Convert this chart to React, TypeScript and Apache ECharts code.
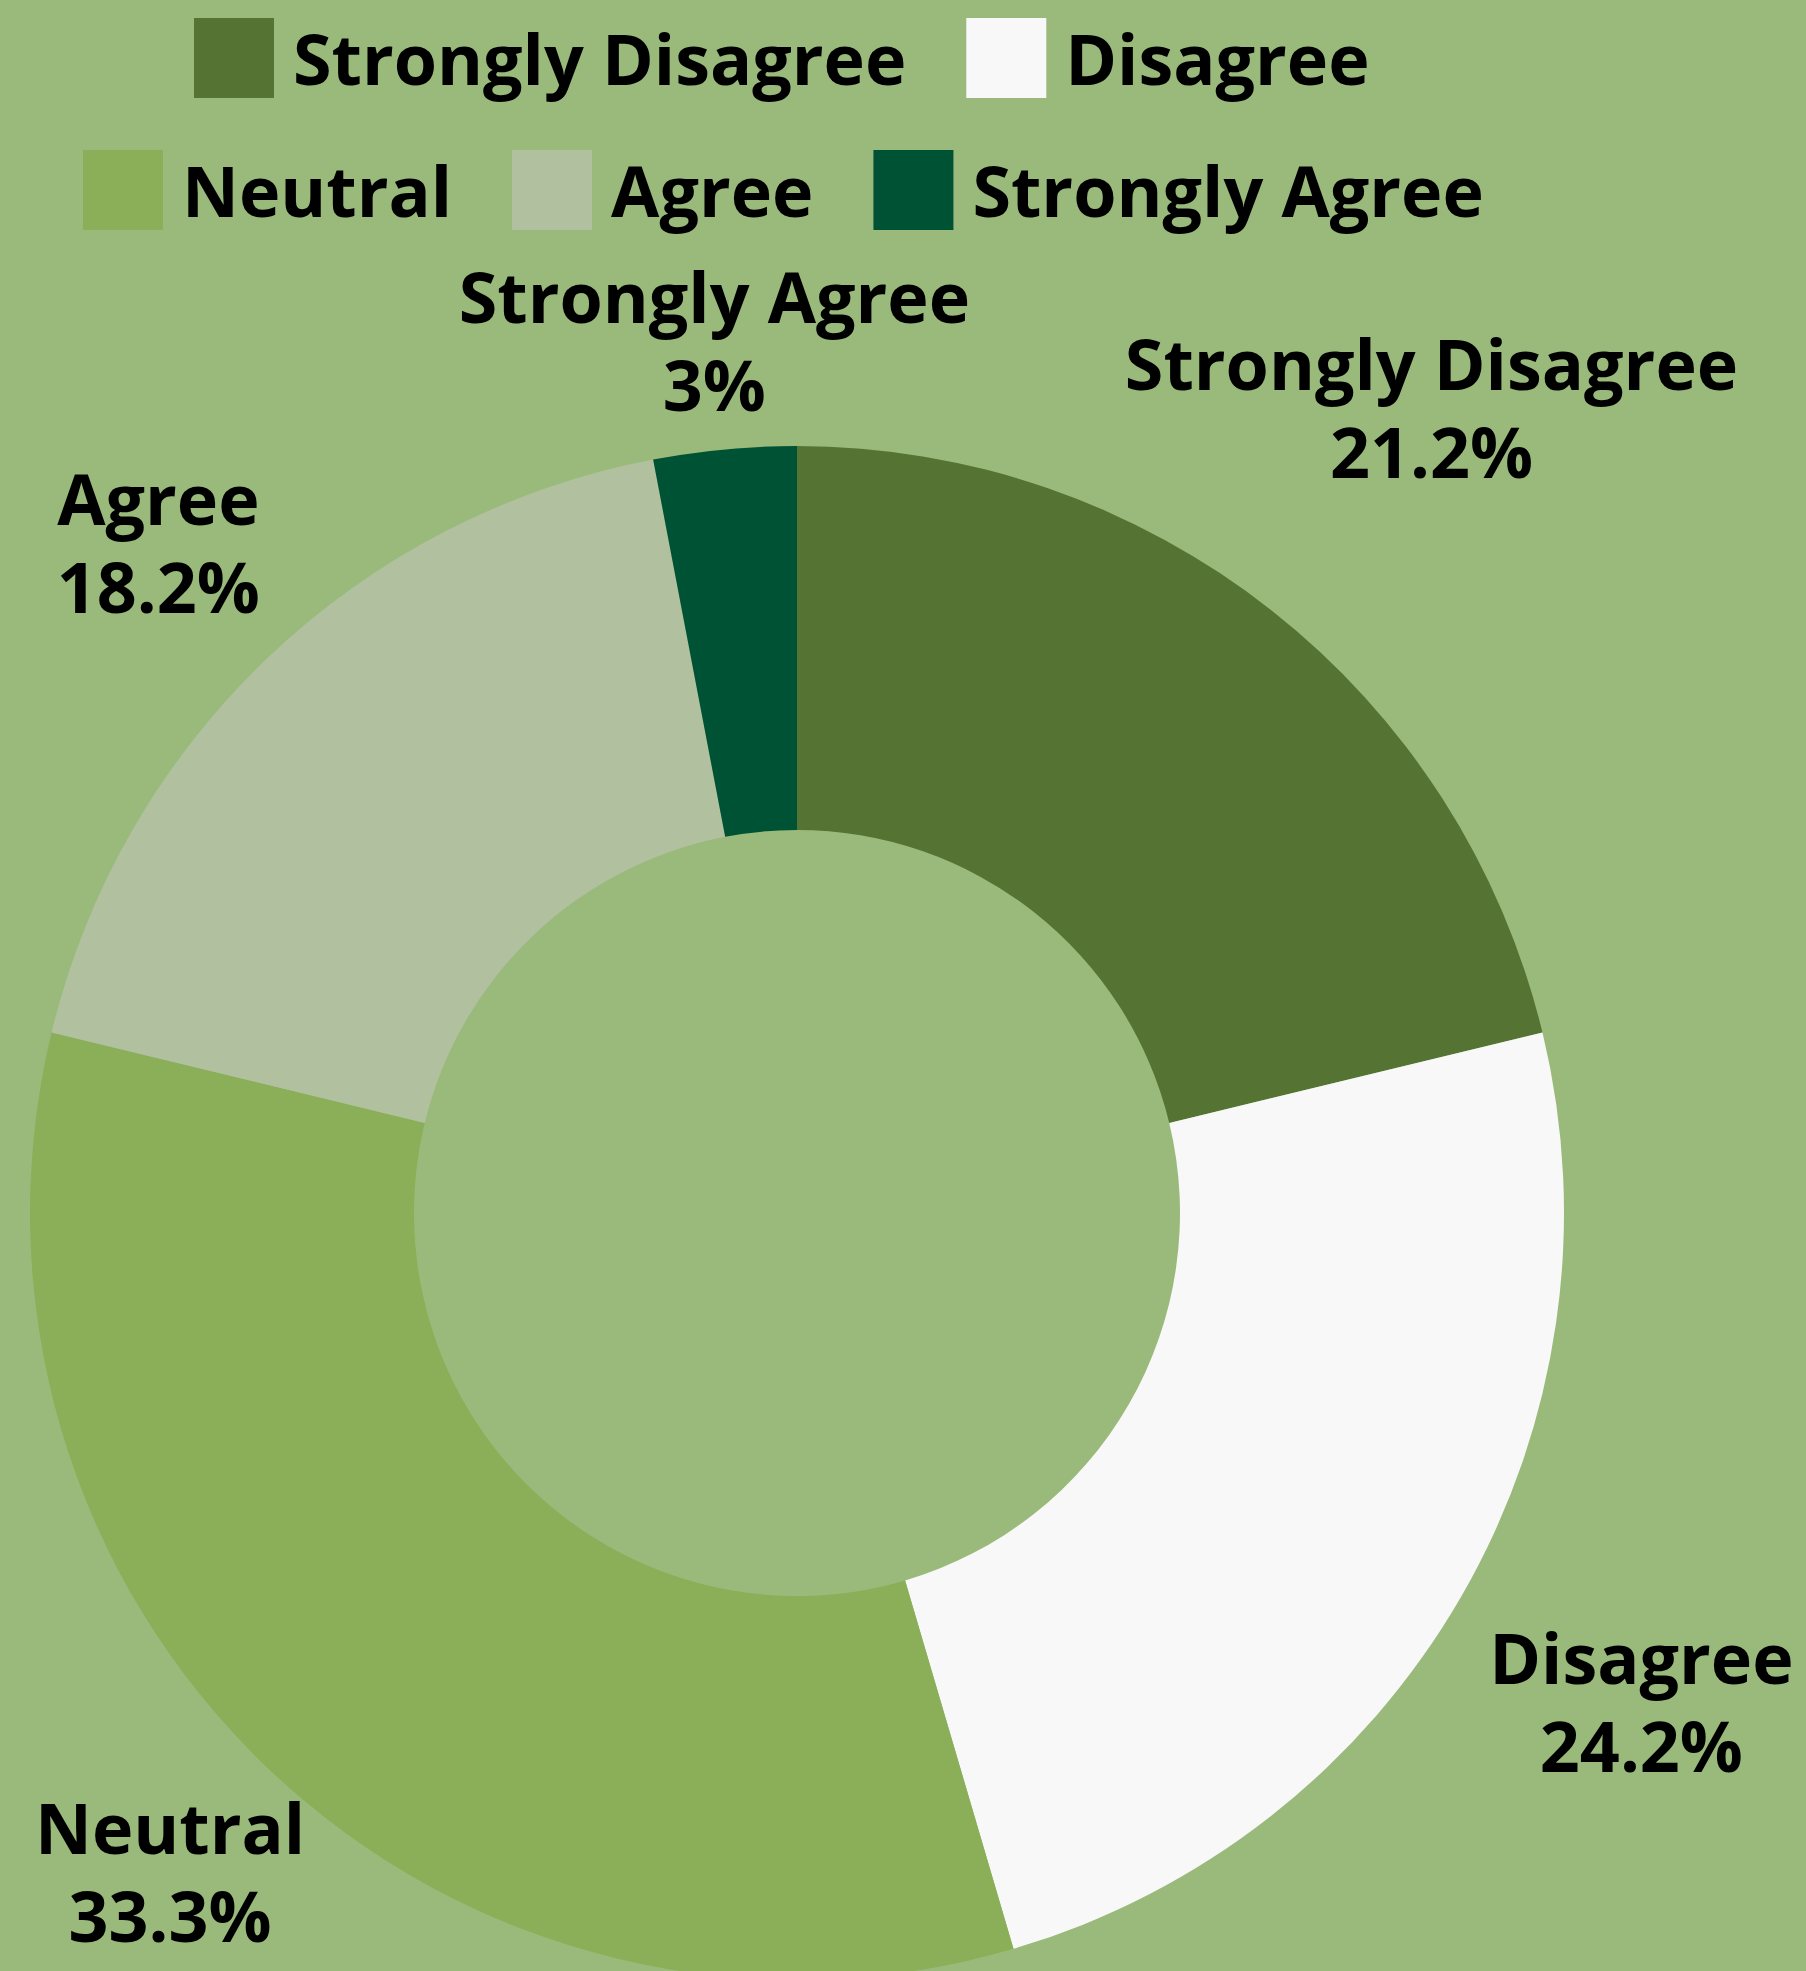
import React, { useEffect, useRef } from "react";
import * as echarts from "echarts";

const categories = ["Strongly Disagree", "Disagree", "Neutral", "Agree", "Strongly Agree"];
const percentages = [21.2, 24.2, 33.3, 18.2, 3];
const colors = ["#557332", "#f8f8f8", "#8aaf58", "#b1c19f", "#005234"];
// distance of each label's centre from the donut centre (layout only)
const labelDistances = [1026, 975, 909, 926, 877];

const W = 1806;
const H = 1971;
const CX = 797;
const CY = 1213;
const R_OUT = 767;
const R_IN = 383;

export default function App() {
  const ref = useRef<HTMLDivElement>(null);
  useEffect(() => {
    document.body.style.margin = "0";
    const chart = echarts.init(ref.current!, null, { renderer: "svg" });
    const total = percentages.reduce((a, b) => a + b, 0);
    const mids: number[] = [];
    let acc = 0;
    percentages.forEach((v) => {
      const span = (v / total) * 360;
      mids.push(90 - acc - span / 2);
      acc += span;
    });
    const font = {
      fontFamily: "'Open Sans', sans-serif",
      fontWeight: 700,
      fontSize: 70,
      color: "#000",
    };
    const legendBase = {
      orient: "horizontal",
      icon: "rect",
      itemWidth: 80,
      itemHeight: 80,
      itemGap: 60,
      selectedMode: false,
      textStyle: { ...font, lineHeight: 80, padding: [0, 0, 0, 14] },
    };
    chart.setOption({
      animation: false,
      backgroundColor: "#9aba7b",
      legend: [
        { ...legendBase, data: categories.slice(0, 2), left: 189, top: 13 },
        { ...legendBase, data: categories.slice(2), left: 78, top: 145 },
      ],
      series: [
        {
          type: "pie",
          center: [CX, CY],
          radius: [R_IN, R_OUT],
          startAngle: 90,
          clockwise: true,
          emphasis: { disabled: true },
          data: categories.map((c, i) => ({
            name: c,
            value: percentages[i],
            itemStyle: { color: colors[i] },
          })),
          label: {
            show: true,
            position: "inside",
            formatter: (p: any) => `${p.name}\n${p.value}%`,
            ...font,
            lineHeight: 88,
            align: "center",
            verticalAlign: "middle",
          },
          labelLine: { show: false },
          labelLayout: (p: any) => {
            const a = (mids[p.dataIndex] * Math.PI) / 180;
            const d = labelDistances[p.dataIndex];
            return { x: CX + d * Math.cos(a), y: CY - d * Math.sin(a) };
          },
        },
      ],
    });
    return () => chart.dispose();
  }, []);
  return <div ref={ref} style={{ width: W, height: H }} />;
}
